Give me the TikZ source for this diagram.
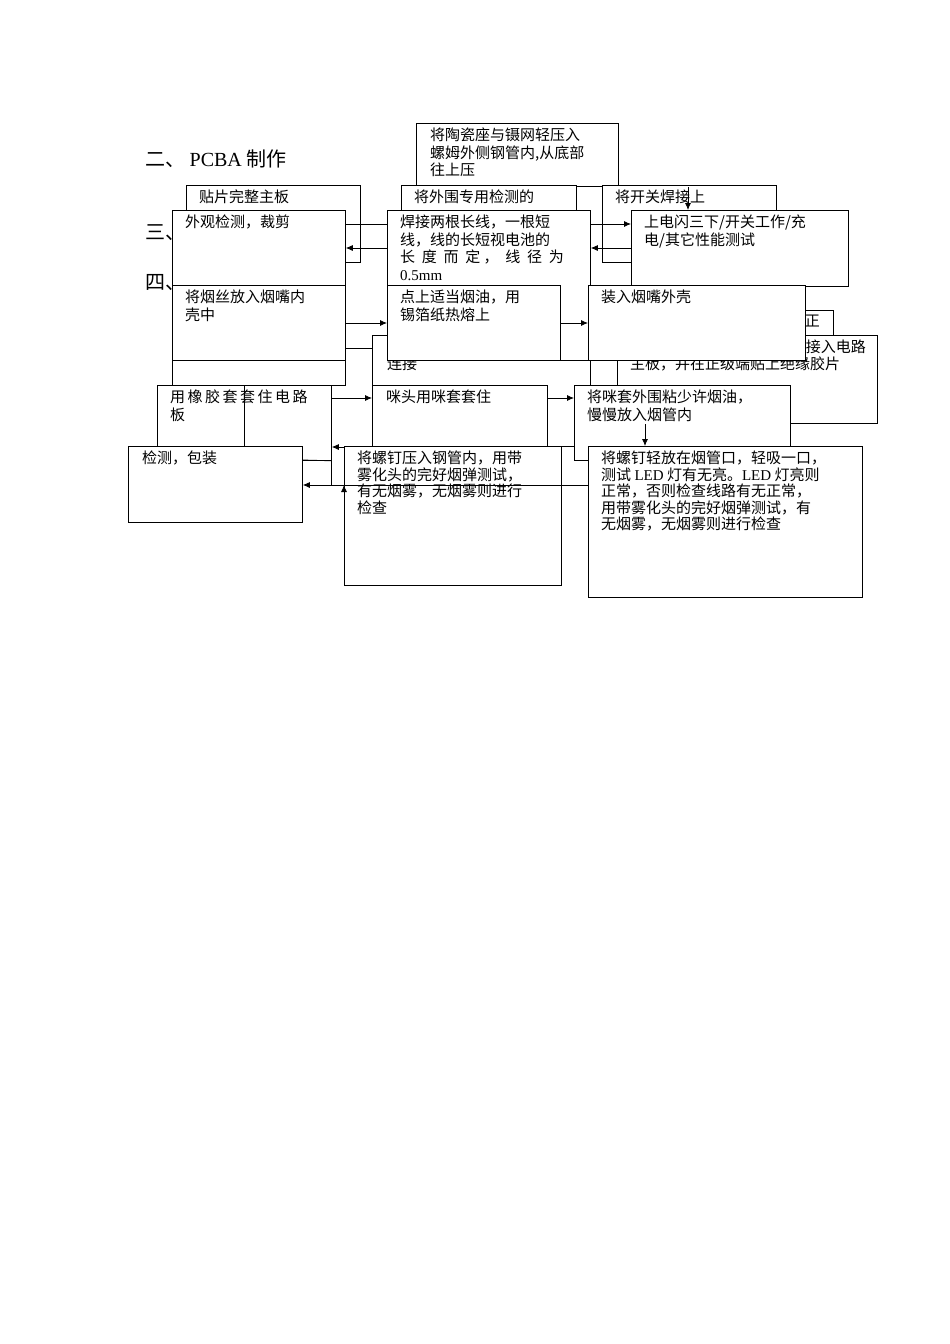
\documentclass[tikz,border=0pt]{standalone}
\usepackage{fontspec}
\setmainfont{Noto Sans CJK SC}
\newfontfamily\latf{Liberation Serif}
\newcommand{\lat}[1]{{\latf #1}}
\usetikzlibrary{arrows.meta}
\begin{document}
\begin{tikzpicture}[x=1pt,y=-1pt,
  bx/.style={draw,fill=white,line width=0.8pt},
  tx/.style={anchor=north west,inner sep=0pt,align=left,font=\fontsize{15}{17.5}\selectfont},
  ar/.style={line width=0.8pt,-{Latex[length=7pt,width=6pt]}},
  ln/.style={line width=0.8pt}]
\useasboundingbox[fill=white] (0,0) rectangle (950,1344);
\node[tx,font=\fontsize{20}{22}\selectfont] (h2) at (145,150) {二、 \lat{PCBA} 制作};
\node[tx,font=\fontsize{20}{22}\selectfont] (h3) at (145,224) {三、};
\node[tx,font=\fontsize{20}{22}\selectfont] (h4) at (145,274) {四、};
% back layer
\draw[bx] (416,123) rectangle (618,186) coordinate (Abr); \coordinate (A) at (416,123);
\node[tx] (tA) at (430,128) {将陶瓷座与镊网轻压入\\螺姆外侧钢管内,从底部\\往上压};
\draw[bx] (186,185) rectangle (360,262);
\node[tx] (tB) at (199,190) {贴片完整主板};
\draw[bx] (401,185) rectangle (576,262);
\node[tx] (tC) at (414,190) {将外围专用检测的};
\draw[bx] (602,185) rectangle (776,262);
\node[tx] (tD) at (615,190) {将开关焊接上};
% left column
\draw[bx] (172,210) rectangle (345,385);
\node[bx,anchor=north west,minimum width=173pt,minimum height=75pt,inner sep=0pt] (E) at (172,210) {};
\node[tx] (tE) at (185,215) {外观检测，裁剪};
\node[bx,anchor=north west,minimum width=173pt,minimum height=75pt,inner sep=0pt] (S) at (172,285) {};
\node[tx] (tS) at (185,290) {将烟丝放入烟嘴内\\壳中};
% middle column
\node[bx,anchor=north west,minimum width=218pt,minimum height=111pt,inner sep=0pt] (W) at (372,335) {};
\node[tx] (tW1) at (560,340) {线};
\node[tx] (tW2) at (387,357) {连接};
\node[bx,anchor=north west,minimum width=203pt,minimum height=150pt,inner sep=0pt] (F) at (387,210) {};
\node[tx] (tF) at (400,215) {焊接两根长线，一根短\\线，线的长短视电池的\\长\ \ 度\ \ 而\ \ 定\ ，\ \ 线\ \ 径\ \ 为\\\lat{0.5mm}};
\node[bx,anchor=north west,minimum width=173pt,minimum height=75pt,inner sep=0pt] (P) at (387,285) {};
\node[tx] (tP) at (400,290) {点上适当烟油，用\\锡箔纸热熔上};
% right column
\node[bx,anchor=north west,minimum width=217pt,minimum height=76pt,inner sep=0pt] (G) at (631,210) {};
\node[tx] (tG) at (644,215) {上电闪三下/开关工作/充\\电/其它性能测试};
\node[bx,anchor=north west,minimum width=216pt,minimum height=30pt,inner sep=0pt] (H1) at (617,310) {};
\node[tx,anchor=north east] (tH1) at (820,315) {正};
\node[bx,anchor=north west,minimum width=260pt,minimum height=88pt,inner sep=0pt] (H2) at (617,335) {};
\node[tx,anchor=north east] (tH2a) at (866,340) {接入电路};
\node[tx] (tH2b) at (630,357) {主板，并在正级端贴上绝缘胶片};
\node[bx,anchor=north west,minimum width=217pt,minimum height=75pt,inner sep=0pt] (I) at (588,285) {};
\node[tx] (tI) at (601,290) {装入烟嘴外壳};
% lower rows
\node[bx,anchor=north west,minimum width=174pt,minimum height=75pt,inner sep=0pt] (J) at (157,385) {};
\draw[ln] (244,385) -- (244,446);
\node[tx] (tJ) at (170,390) {用\,橡\,胶\,套\,套\,住\,电\,路\\板};
\node[bx,anchor=north west,minimum width=175pt,minimum height=61pt,inner sep=0pt] (K) at (372,385) {};
\node[tx] (tK) at (386,390) {咪头用咪套套住};
\node[bx,anchor=north west,minimum width=216pt,minimum height=75pt,inner sep=0pt] (L) at (574,385) {};
\node[tx] (tL) at (587,390) {将咪套外围粘少许烟油，\\慢慢放入烟管内};
\node[bx,anchor=north west,minimum width=174pt,minimum height=76pt,inner sep=0pt] (T) at (128,446) {};
\node[tx] (tT) at (142,451) {检测，包装};
\node[bx,anchor=north west,minimum width=217pt,minimum height=139pt,inner sep=0pt] (M) at (344,446) {};
\node[tx,font=\fontsize{15}{16.5}\selectfont] (tM) at (357,451) {将螺钉压入钢管内，用带\\雾化头的完好烟弹测试，\\有无烟雾，无烟雾则进行\\检查};
\node[bx,anchor=north west,minimum width=274pt,minimum height=151pt,inner sep=0pt] (N) at (588,446) {};
\node[tx,font=\fontsize{15}{16.5}\selectfont] (tN) at (601,451) {将螺钉轻放在烟管口，轻吸一口，\\测试 \lat{LED} 灯有无亮。\lat{LED} 灯亮则\\正常，否则检查线路有无正常，\\用带雾化头的完好烟弹测试，有\\无烟雾，无烟雾则进行检查};
% connectors
\draw[ln] (E.east |- 0,224) -- (F.west |- 0,224);
\draw[ar] (F.west |- 0,248) -- (E.east |- 0,248);
\draw[ar] (F.east |- 0,224) -- (G.west |- 0,224);
\draw[ar] (G.west |- 0,248) -- (F.east |- 0,248);
\draw[ar] (688,187) -- (G.north -| 688,0);
\draw[ar] (S.east |- 0,323) -- (P.west |- 0,323);
\draw[ln] (S.east |- 0,348) -- (W.west |- 0,348);
\draw[ar] (P.east |- 0,323) -- (I.west |- 0,323);
\draw[ar] (J.east |- 0,398) -- (K.west |- 0,398);
\draw[ar] (K.east |- 0,398) -- (L.west |- 0,398);
\draw[ar] (645,424) -- (N.north -| 645,0);
\draw[ar] (N.west |- 0,485) -- (M.west |- 0,485) ++(0,0);
\draw[ar] (M.west |- 0,485) -- (T.east |- 0,485);
\draw[ar] (M.west |- 0,447) -- (J.east |- 0,447);
\draw[ln] (J.south east) -- (J.east |- 0,485);
\draw[ln] (T.east |- 0,460) -- (J.south east);
\end{tikzpicture}
\end{document}
